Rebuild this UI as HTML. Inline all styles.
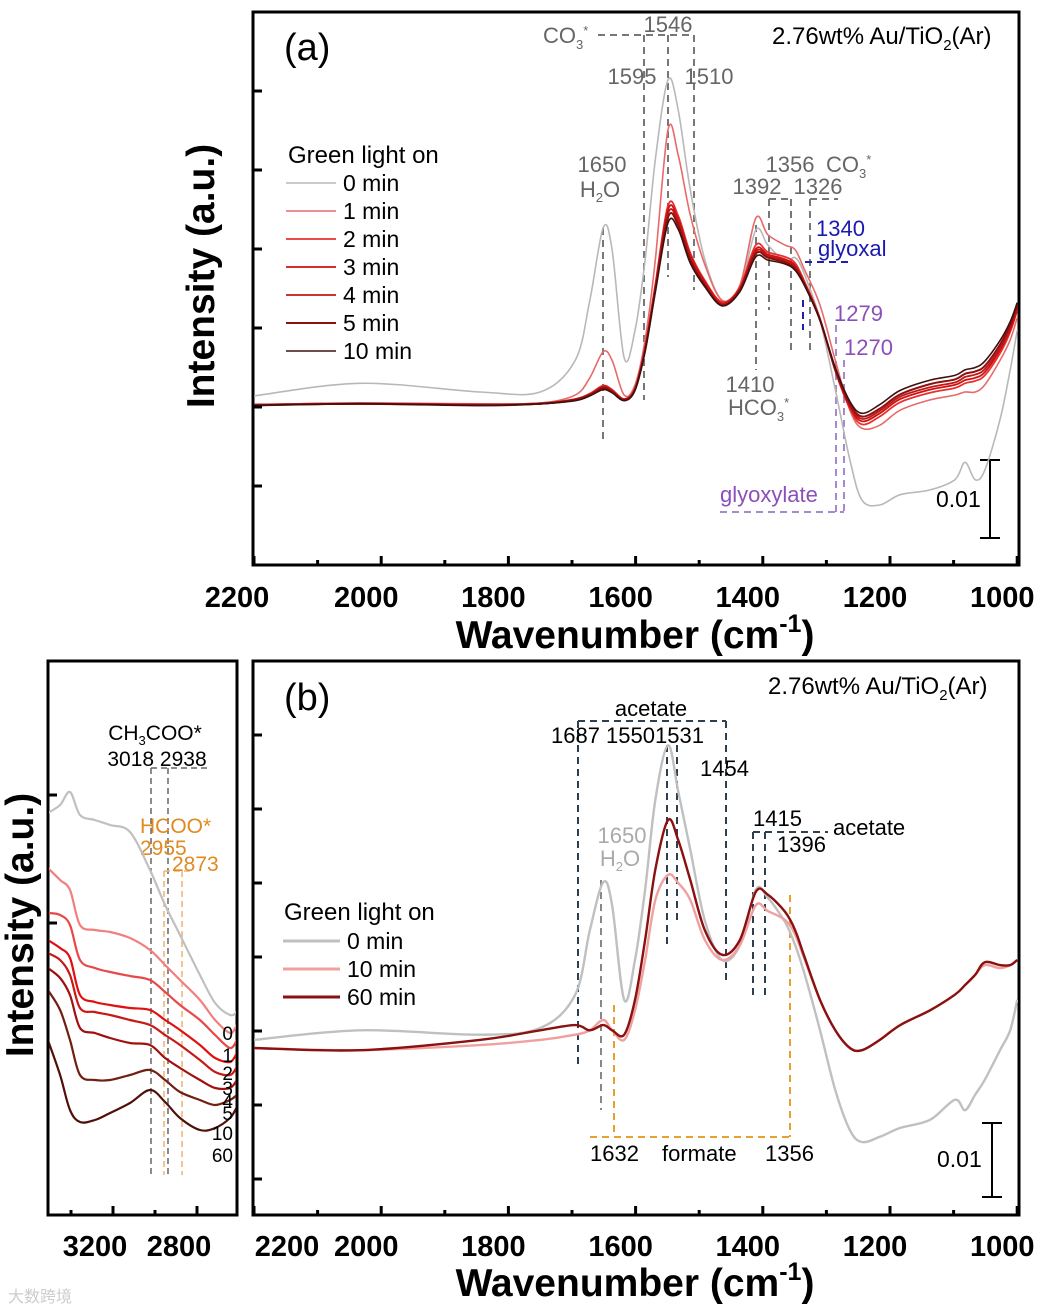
<!DOCTYPE html>
<html><head><meta charset="utf-8">
<style>
html,body{margin:0;padding:0;background:#fff;}
svg{display:block;font-family:"Liberation Sans",Arial,sans-serif;}
.tk{font-weight:bold;font-size:29px;fill:#000;}
.ax{font-weight:bold;font-size:39px;fill:#000;}
</style></head>
<body>
<svg id="fig" width="1039" height="1312" viewBox="0 0 1039 1312" xmlns="http://www.w3.org/2000/svg">
<defs>
<clipPath id="clipA"><rect x="254" y="13" width="764" height="551"/></clipPath>
<clipPath id="clipB"><rect x="254" y="662" width="764" height="552"/></clipPath>
<clipPath id="clipI"><rect x="49" y="662" width="187" height="552"/></clipPath>
</defs>

<!-- Panel A -->
<g>
<rect x="253" y="12" width="766" height="553" fill="none" stroke="#000" stroke-width="3"/>
<g id="annA" fill="none" stroke-dasharray="7,5" stroke-width="2">
<path d="M598,35 H694 M644,35 V400 M668,35 V277 M694,35 V290" stroke="#777"/>
<path d="M603,228 V440" stroke="#777"/>
<path d="M769,199 H791 M769,199 V310 M791,199 V350 M810,199 H838 M810,199 V350" stroke="#777"/>
<path d="M756,225 V370" stroke="#777"/>
<path d="M805,262 H853 M803,300 V330" stroke="#2020b0"/>
<path d="M836,325 V512 M844,360 V512 M720,512 H844" stroke="#a58acc"/>
</g>
<g font-size="22" fill="#666">
<text x="543" y="43">CO<tspan font-size="13" dy="6">3</tspan><tspan font-size="13" dy="-14">*</tspan></text>
<text x="668" y="32" text-anchor="middle">1546</text>
<text x="632" y="84" text-anchor="middle">1595</text>
<text x="709" y="84" text-anchor="middle">1510</text>
<text x="602" y="172" text-anchor="middle">1650</text>
<text x="600" y="197" text-anchor="middle">H<tspan font-size="13" dy="5">2</tspan><tspan dy="-5">O</tspan></text>
<text x="790" y="172" text-anchor="middle">1356</text>
<text x="826" y="172">CO<tspan font-size="13" dy="6">3</tspan><tspan font-size="13" dy="-14">*</tspan></text>
<text x="757" y="194" text-anchor="middle">1392</text>
<text x="818" y="194" text-anchor="middle">1326</text>
<text x="750" y="392" text-anchor="middle">1410</text>
<text x="728" y="415">HCO<tspan font-size="13" dy="6">3</tspan><tspan font-size="13" dy="-14">*</tspan></text>
<text x="816" y="236" fill="#1a1ab0">1340</text>
<text x="818" y="256" fill="#1a1ab0">glyoxal</text>
<text x="834" y="321" fill="#8a4fb8">1279</text>
<text x="844" y="355" fill="#8a4fb8">1270</text>
<text x="720" y="502" fill="#8a4fb8">glyoxylate</text>
</g>
<text x="772" y="44" font-size="24" fill="#000">2.76wt% Au/TiO<tspan font-size="15" dy="6">2</tspan><tspan dy="-6">(Ar)</tspan></text>
<text x="284" y="60" font-size="38" fill="#000">(a)</text>
<path d="M990,460 V538 M980,460 H1000 M980,538 H1000" stroke="#000" stroke-width="2"/>
<text x="936" y="507" font-size="23">0.01</text>
<g id="legA"><text x="288" y="163" font-size="24">Green light on</text></g>
<g id="curvesA" clip-path="url(#clipA)"></g>
<g id="ticksA"></g>
<text x="635" y="648" class="ax" text-anchor="middle">Wavenumber (cm<tspan font-size="25" dy="-16">-1</tspan><tspan dy="16">)</tspan></text>
<text transform="translate(214,276) rotate(-90)" class="ax" text-anchor="middle">Intensity (a.u.)</text>
</g>

<!-- Panel B -->
<g>
<rect x="253" y="661" width="766" height="554" fill="none" stroke="#000" stroke-width="3"/>
<g fill="none" stroke-dasharray="7,5" stroke-width="2">
<path d="M578,721 H726 M578,721 V1065 M726,721 V985 M667,745 V945 M677,745 V925" stroke="#2e4050"/>
<path d="M601,880 V1110" stroke="#888"/>
<path d="M753,832 H828 M753,832 V995 M765,832 V995" stroke="#2e4050"/>
<path d="M614,1005 V1137 M790,895 V1137 M590,1137 H790" stroke="#e8a030"/>
</g>
<g font-size="22" fill="#000">
<text x="651" y="716" text-anchor="middle">acetate</text>
<text x="551" y="743">1687 15501531</text>
<text x="700" y="776">1454</text>
<text x="622" y="843" text-anchor="middle" fill="#aaa">1650</text>
<text x="620" y="866" text-anchor="middle" fill="#aaa">H<tspan font-size="13" dy="5">2</tspan><tspan dy="-5">O</tspan></text>
<text x="753" y="826">1415</text>
<text x="833" y="835">acetate</text>
<text x="777" y="852">1396</text>
<text x="590" y="1161">1632</text>
<text x="662" y="1161">formate</text>
<text x="765" y="1161">1356</text>
</g>
<text x="768" y="694" font-size="24">2.76wt% Au/TiO<tspan font-size="15" dy="6">2</tspan><tspan dy="-6">(Ar)</tspan></text>
<text x="284" y="710" font-size="38">(b)</text>
<path d="M992,1123 V1197 M982,1123 H1002 M982,1197 H1002" stroke="#000" stroke-width="2"/>
<text x="937" y="1167" font-size="23">0.01</text>
<g id="legB"><text x="284" y="920" font-size="24">Green light on</text></g>
<g id="curvesB" clip-path="url(#clipB)"></g>
<g id="ticksB"></g>
<text x="635" y="1296" class="ax" text-anchor="middle">Wavenumber (cm<tspan font-size="25" dy="-16">-1</tspan><tspan dy="16">)</tspan></text>
</g>

<!-- Inset -->
<g>
<rect x="48" y="661" width="189" height="554" fill="none" stroke="#000" stroke-width="3"/>
<g fill="none" stroke-dasharray="6,4" stroke-width="1.5">
<path d="M151,768 H208 M151,768 V1175 M168,768 V1175" stroke="#666"/>
<path d="M164,871 H193 M164,871 V1175 M182,871 V1175" stroke="#f0b070"/>
</g>
<text x="155" y="740" font-size="21" text-anchor="middle">CH<tspan font-size="13" dy="5">3</tspan><tspan dy="-5">COO*</tspan></text>
<text x="157" y="766" font-size="21" text-anchor="middle">3018 2938</text>
<text x="140" y="833" font-size="21" fill="#e08a20">HCOO*</text>
<text x="140" y="855" font-size="21" fill="#e08a20">2955</text>
<text x="172" y="871" font-size="21" fill="#e08a20">2873</text>
<g id="curvesI" clip-path="url(#clipI)"></g>
<g id="ticksI"></g>
<text transform="translate(33,925) rotate(-90)" class="ax" text-anchor="middle">Intensity (a.u.)</text>
</g>
<text x="8" y="1302" font-size="16" fill="#ccc">大数跨境</text>
</svg>

<script>
// ---------- Panel A data ----------
const wnA = [2200,2033,1845,1750,1695,1672,1651,1637,1618,1601,1585,1569,1549,1533,1514,1491,1464,1436,1411,1392,1365,1349,1334,1310,1286,1263,1244,1216,1184,1137,1098,1082,1066,1051,1027,1011,1000];
const a0min = [0.14,0.30,0.19,0.19,0.59,1.35,2.27,1.99,0.62,0.97,1.86,3.13,4.14,3.76,2.75,1.86,1.35,1.48,2.24,2.05,1.84,1.89,1.67,1.10,0.22,-0.67,-1.18,-1.24,-1.11,-1.05,-0.92,-0.70,-0.92,-0.80,-0.16,0.47,0.97];
const a1min = [0.03,0.05,0.04,0.05,0.15,0.37,0.70,0.59,0.15,0.28,0.85,1.86,3.51,3.19,2.43,1.80,1.35,1.54,2.39,2.18,2.05,1.99,1.73,1.29,0.59,-0.04,-0.27,-0.23,-0.04,0.09,0.15,0.19,0.19,0.28,0.59,0.85,1.13];
const a2min = [0.03,0.05,0.03,0.05,0.10,0.17,0.27,0.22,0.10,0.24,0.76,1.55,2.55,2.42,1.95,1.60,1.33,1.52,2.05,1.96,1.90,1.82,1.58,1.12,0.46,-0.02,-0.22,-0.12,0.06,0.18,0.24,0.30,0.33,0.40,0.68,0.95,1.22];
const a3min = [0.03,0.04,0.03,0.04,0.10,0.16,0.26,0.21,0.10,0.23,0.74,1.52,2.50,2.38,1.92,1.58,1.31,1.50,2.00,1.93,1.87,1.79,1.56,1.11,0.46,0,-0.18,-0.08,0.10,0.22,0.28,0.34,0.37,0.44,0.72,0.98,1.24];
const a4min = [0.03,0.04,0.03,0.04,0.09,0.15,0.25,0.20,0.09,0.22,0.73,1.50,2.45,2.34,1.89,1.56,1.30,1.49,1.97,1.91,1.85,1.77,1.55,1.10,0.47,0.02,-0.15,-0.05,0.13,0.25,0.31,0.38,0.41,0.48,0.75,1.01,1.27];
const a5min = [0.02,0.04,0.02,0.04,0.09,0.15,0.24,0.19,0.09,0.22,0.72,1.48,2.40,2.30,1.86,1.54,1.29,1.48,1.94,1.89,1.83,1.75,1.54,1.10,0.48,0.04,-0.12,-0.02,0.16,0.29,0.35,0.42,0.45,0.52,0.79,1.04,1.29];
const a10min = [0.02,0.04,0.02,0.04,0.08,0.14,0.22,0.18,0.08,0.21,0.70,1.45,2.33,2.25,1.82,1.52,1.28,1.46,1.90,1.86,1.81,1.73,1.53,1.10,0.50,0.07,-0.08,0.03,0.21,0.34,0.40,0.47,0.50,0.58,0.84,1.08,1.32];
const seriesNamesA = ['0 min','1 min','2 min','3 min','4 min','5 min','10 min'];
// ---------- Panel B data ----------
const wnB = wnA;
const b0min = [-0.12,0.01,-0.05,0.04,0.49,1.36,2.01,1.70,0.42,0.96,1.91,3.12,3.86,3.24,2.45,1.49,0.96,1.16,1.91,1.80,1.47,1.16,0.76,0.01,-0.80,-1.34,-1.50,-1.43,-1.31,-1.20,-0.93,-1.07,-0.86,-0.66,-0.26,0.01,0.42];
const b10min = [-0.23,-0.26,-0.19,-0.12,-0.05,0.01,0.15,0.01,-0.12,0.28,0.96,1.77,2.11,2.00,1.77,1.23,0.96,1.16,1.70,1.62,1.50,1.30,0.96,0.42,0.01,-0.23,-0.26,-0.12,0.08,0.28,0.49,0.62,0.76,0.89,0.85,0.89,0.96];
const b60min = [-0.23,-0.26,-0.12,0.01,0.08,0.01,0.08,0.01,-0.05,0.42,1.23,2.18,2.85,2.58,2.04,1.36,1.03,1.23,1.88,1.84,1.61,1.36,0.99,0.42,0.01,-0.23,-0.26,-0.12,0.08,0.28,0.49,0.62,0.76,0.93,0.89,0.89,0.96];
const seriesNamesB = ['0 min','10 min','60 min'];
// ---------- Inset data ----------
const wnI = [3510,3452,3405,3357,3286,3214,3119,3024,2952,2881,2786,2714,2643,2610];
const i0 = [4.02,4.10,4.23,4.00,3.95,3.90,3.83,3.45,3.10,2.80,2.40,2.12,2.00,2.03];
const i1 = [3.47,3.35,3.25,2.90,2.85,2.83,2.77,2.65,2.50,2.35,2.15,1.95,1.82,1.90];
const i2 = [3.02,3.00,2.90,2.55,2.47,2.43,2.39,2.35,2.23,2.10,1.95,1.80,1.67,1.75];
const i3 = [2.75,2.67,2.57,2.20,2.13,2.10,2.07,2.05,1.95,1.85,1.70,1.57,1.53,1.62];
const i4 = [2.62,2.55,2.40,2.07,2.03,2.00,1.95,1.90,1.80,1.70,1.55,1.43,1.40,1.48];
const i5 = [2.47,2.37,2.20,1.87,1.82,1.77,1.72,1.70,1.57,1.47,1.35,1.27,1.27,1.35];
const i10 = [2.25,2.05,1.75,1.40,1.35,1.35,1.40,1.45,1.35,1.23,1.15,1.10,1.15,1.20];
const i60 = [1.75,1.40,1.05,0.93,0.95,1.02,1.12,1.25,1.13,0.97,0.85,0.87,0.97,1.08];
const insetLabels = ['0','1','2','3','4','5','10','60'];
const xTicksMain = [2000,1800,1600,1400,1200,1000];
const xTicksInset = [3200,2800];

const NS='http://www.w3.org/2000/svg';
function xA(w){return 254+(2200-w)*0.636;}
function yA(v){return 407-v*79;}
function yB(v){return 1031-v*74;}
function xI(w){return 113+(3200-w)*0.21;}
function yI(v){return 1215-v*100;}
function smooth(pts){
  let d='M'+pts[0][0].toFixed(1)+','+pts[0][1].toFixed(1);
  for(let i=0;i<pts.length-1;i++){
    const p0=pts[Math.max(0,i-1)],p1=pts[i],p2=pts[i+1],p3=pts[Math.min(pts.length-1,i+2)];
    const c1x=p1[0]+(p2[0]-p0[0])/6,c1y=p1[1]+(p2[1]-p0[1])/6;
    const c2x=p2[0]-(p3[0]-p1[0])/6,c2y=p2[1]-(p3[1]-p1[1])/6;
    d+=' C'+c1x.toFixed(1)+','+c1y.toFixed(1)+' '+c2x.toFixed(1)+','+c2y.toFixed(1)+' '+p2[0].toFixed(1)+','+p2[1].toFixed(1);
  }
  return d;
}
function el(tag,attrs,parent){const e=document.createElementNS(NS,tag);for(const k in attrs)e.setAttribute(k,attrs[k]);parent.appendChild(e);return e;}

function drawSeries(g,wn,vals,xf,yf,color,width,name){
  const p=el('path',{d:smooth(wn.map((w,i)=>[xf(w),yf(vals[i])])),fill:'none',stroke:color,'stroke-width':width,'stroke-linejoin':'round'},g);
  
  
}
function legendEntry(g,x1,x2,y,color,width,label,name){
  const l=el('line',{x1:x1,x2:x2,y1:y,y2:y,stroke:color,'stroke-width':width},g);
  
  
  const t=el('text',{x:x2+7,y:y+8,'font-size':23},g);t.textContent=label;
  
  
}

// Panel A
const gA=document.getElementById('curvesA');
const dataA=[a0min,a1min,a2min,a3min,a4min,a5min,a10min];
const colA=['#b8b8b8','#e86a6a','#e83030','#d01010','#c01818','#901010','#401010'];
const wA=[1.6,1.6,1.8,1.8,1.8,2,1.6];
const legA=document.getElementById('legA');
dataA.forEach((s,i)=>{
  drawSeries(gA,wnA,s,xA,yA,colA[i],wA[i],'series-a-'+seriesNamesA[i].replace(' ','-'));
  legendEntry(legA,286,336,183+i*28,colA[i],wA[i],seriesNamesA[i],'legend-a-'+seriesNamesA[i].replace(' ','-'));
});
// Panel B
const gB=document.getElementById('curvesB');
const dataB=[b0min,b10min,b60min];
const colB=['#c0c0c0','#f0a0a0','#8b1010'];
const legB=document.getElementById('legB');
dataB.forEach((s,i)=>{
  drawSeries(gB,wnB,s,xA,yB,colB[i],2.4,'series-b-'+seriesNamesB[i].replace(' ','-'));
  legendEntry(legB,283,340,941+i*28,colB[i],3,seriesNamesB[i],'legend-b-'+seriesNamesB[i].replace(' ','-'));
});
// Inset
const gI=document.getElementById('curvesI');
const dataI=[i0,i1,i2,i3,i4,i5,i10,i60];
const colI=['#c0c0c0','#f08080','#e84848','#e01010','#c81818','#a01010','#702010','#501008'];
const labYI=[1040,1062,1080,1095,1108,1120,1140,1162];
const gIT=document.getElementById('ticksI');
dataI.forEach((s,i)=>{
  drawSeries(gI,wnI,s,xI,yI,colI[i],2.2,'series-inset-'+insetLabels[i]+'min');
  const t=el('text',{x:233,y:labYI[i],'font-size':19,'text-anchor':'end'},gIT);
  t.textContent=insetLabels[i];
  
  
});

// Ticks
function axisTicks(gid,yBot,yTicks,labelY,labelShift){
  const g=document.getElementById(gid);
  for(let w=2200;w>=1000;w-=100){
    const major=w%200===0;
    el('line',{x1:xA(w),x2:xA(w),y1:yBot,y2:yBot-(major?8:4),stroke:'#000','stroke-width':3},g);
  }
  xTicksMain.forEach(w=>{
    const t=el('text',{x:xA(w)-15,y:labelY,'text-anchor':'middle',class:'tk'},g);
    t.textContent=w;
    
    
  });
  const t=el('text',{x:labelShift,y:labelY,'text-anchor':'middle',class:'tk'},g);
  t.textContent='2200';
  
  
  yTicks.forEach(y=>el('line',{x1:254,x2:262,y1:y,y2:y,stroke:'#000','stroke-width':3},g));
}
axisTicks('ticksA',564,[-1,0,1,2,3,4].map(yA),607,237);
axisTicks('ticksB',1214,[-2,-1,0,1,2,3,4].map(yB),1256,287);
(function(){
  const g=document.getElementById('ticksI');
  [3400,3200,3000,2800].forEach(w=>el('line',{x1:xI(w),x2:xI(w),y1:1214,y2:w%400===0?1206:1210,stroke:'#000','stroke-width':3},g));
  xTicksInset.forEach(w=>{
    const t=el('text',{x:xI(w)-18,y:1256,'text-anchor':'middle',class:'tk'},g);
    t.textContent=w;
    
    
  });
  [4.2,2.92].forEach(v=>el('line',{x1:49,x2:57,y1:yI(v),y2:yI(v),stroke:'#000','stroke-width':3},g));
})();
</script>
</body></html>
